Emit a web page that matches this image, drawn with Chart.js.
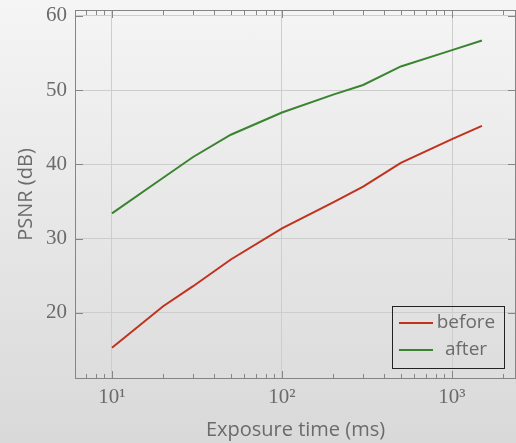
<!DOCTYPE html>
<html><head><meta charset="utf-8">
<script src="https://cdn.jsdelivr.net/npm/chart.js@4/dist/chart.umd.min.js"></script>
<style>
html,body{margin:0;padding:0;}
body{width:516px;height:443px;background:linear-gradient(#f5f5f5,#d9d9d9);overflow:hidden}
#wrap{position:relative;width:516px;height:443px}
</style></head><body><div id="wrap"><canvas id="c"></canvas></div>
<script>
const exposure = [10, 20, 30, 50, 100, 200, 300, 500, 1000, 1500];
const psnrBefore = [15.3, 20.9, 23.6, 27.2, 31.4, 34.9, 37.0, 40.2, 43.4, 45.2];
const psnrAfter = [33.4, 38.2, 41.0, 44.0, 47.0, 49.4, 50.7, 53.2, 55.4, 56.7];
const xTickValues = [10, 100, 1000];
const xTickLabels = ['10¹', '10²', '10³'];
const yTickValues = [20, 30, 40, 50, 60];
const seriesNames = ['before', 'after'];
const seriesColors = ['rgb(192,50,30)', 'rgb(58,132,48)'];

const TEXT = '#6b6b6b';
const SANS = "'Open Sans', sans-serif";
const SERIF = "'Liberation Serif', serif";

const frame = {
  id: 'frame',
  afterDraw(chart) {
    const {ctx, chartArea: a, scales: {x, y}} = chart;
    ctx.save();
    ctx.strokeStyle = '#858585';
    ctx.lineWidth = 1;
    ctx.strokeRect(a.left + 0.5, a.top + 0.5, a.right - a.left - 1, a.bottom - a.top - 1);
    ctx.beginPath();
    for (let d = 1; d <= 10000; d *= 10) {
      for (let m = 1; m < 10; m++) {
        const v = d * m;
        if (v < x.min || v > x.max) continue;
        const px = Math.round(x.getPixelForValue(v)) + 0.5;
        const L = m === 1 ? 8 : 5;
        ctx.moveTo(px, a.bottom); ctx.lineTo(px, a.bottom - L);
        ctx.moveTo(px, a.top); ctx.lineTo(px, a.top + L);
      }
    }
    yTickValues.forEach(v => {
      const py = Math.round(y.getPixelForValue(v)) + 0.5;
      ctx.moveTo(a.left, py); ctx.lineTo(a.left + 8, py);
      ctx.moveTo(a.right, py); ctx.lineTo(a.right - 8, py);
    });
    ctx.stroke();
    // legend
    const bw = 112, bh = 62;
    const bx = a.right - 12 - bw, by = a.bottom - 11 - bh;
    ctx.strokeStyle = '#222';
    ctx.strokeRect(Math.round(bx) + 0.5, Math.round(by) + 0.5, bw, bh);
    ctx.font = '19px ' + SANS;
    ctx.textBaseline = 'middle';
    ctx.textAlign = 'center';
    chart.data.datasets.forEach((ds, i) => {
      const cy = by + 17 + i * 27;
      ctx.strokeStyle = ds.borderColor;
      ctx.lineWidth = 2;
      ctx.beginPath();
      ctx.moveTo(bx + 7, cy); ctx.lineTo(bx + 41, cy);
      ctx.stroke();
      ctx.fillStyle = TEXT;
      ctx.fillText(ds.label, bx + 74, cy);
    });
    ctx.restore();
  }
};

new Chart(document.getElementById('c'), {
  type: 'line',
  data: {
    datasets: [0, 1].map(i => ({
      label: seriesNames[i],
      data: exposure.map((e, k) => ({x: e, y: (i === 0 ? psnrBefore : psnrAfter)[k]})),
      borderColor: seriesColors[i],
      backgroundColor: seriesColors[i],
      borderWidth: 2,
      pointRadius: 0,
      tension: 0,
      fill: false
    }))
  },
  options: {
    responsive: true,
    maintainAspectRatio: false,
    animation: false,
    layout: {padding: {top: 10, right: 0, left: 0, bottom: 0}},
    plugins: {legend: {display: false}, tooltip: {enabled: false}},
    scales: {
      x: {
        type: 'logarithmic',
        min: 6.06, max: 2379,
        afterBuildTicks: s => { s.ticks = xTickValues.map(v => ({value: v})); },
        afterFit: s => { s.height = 64; s.paddingLeft = 0; s.paddingRight = 0; },
        grid: {color: '#cdcdcd', drawTicks: false},
        border: {display: false},
        ticks: {
          autoSkip: false, maxRotation: 0, padding: 6, color: TEXT,
          font: {family: SERIF, size: 21},
          callback: (v, i) => xTickLabels[i]
        },
        title: {display: true, text: 'Exposure time (ms)', color: TEXT,
          font: {family: SANS, size: 20}, padding: {top: 0, bottom: 1}}
      },
      y: {
        type: 'linear',
        min: 11.1, max: 60.8,
        afterBuildTicks: s => { s.ticks = yTickValues.map(v => ({value: v})); },
        afterFit: s => { s.width = 75; s.paddingTop = 0; s.paddingBottom = 0; },
        grid: {color: '#cdcdcd', drawTicks: false},
        border: {display: false},
        ticks: {padding: 8, color: TEXT, font: {family: SERIF, size: 21}},
        title: {display: true, text: 'PSNR (dB)', color: TEXT,
          font: {family: SANS, size: 20}, padding: {top: 14, bottom: 0}}
      }
    }
  },
  plugins: [frame]
});
</script></body></html>
